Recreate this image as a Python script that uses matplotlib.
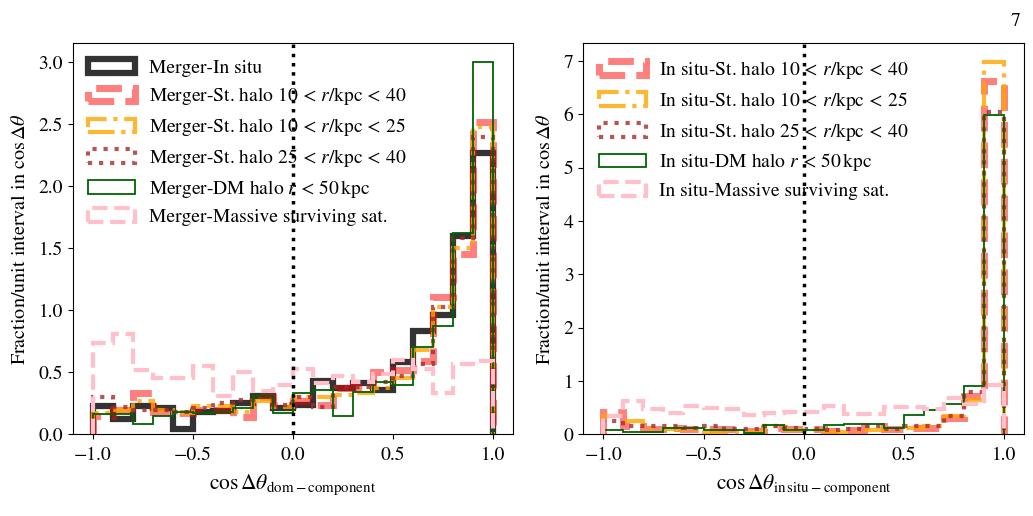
import numpy as np
import matplotlib
matplotlib.use("Agg")
import matplotlib.pyplot as plt

plt.rcParams['font.family'] = 'serif'
plt.rcParams['font.serif'] = ['STIXGeneral', 'Liberation Serif', 'DejaVu Serif']
plt.rcParams['mathtext.fontset'] = 'stix'
plt.rcParams['font.size'] = 14

bin_edges = np.linspace(-1.0, 1.0, 21)

# Left panel: Merger vs components
merger_insitu = [0.23, 0.12, 0.23, 0.21, 0.04, 0.18, 0.19, 0.25, 0.31, 0.21,
                 0.24, 0.43, 0.37, 0.41, 0.36, 0.58, 0.83, 0.96, 1.60, 2.27]
merger_st_10_40 = [0.15, 0.20, 0.33, 0.18, 0.17, 0.20, 0.20, 0.14, 0.30, 0.24,
                   0.27, 0.24, 0.37, 0.38, 0.50, 0.52, 0.59, 1.11, 1.45, 2.52]
merger_st_10_25 = [0.17, 0.20, 0.27, 0.20, 0.17, 0.23, 0.23, 0.18, 0.27, 0.22,
                   0.30, 0.30, 0.32, 0.33, 0.37, 0.45, 0.68, 1.03, 1.50, 2.48]
merger_st_25_40 = [0.30, 0.22, 0.20, 0.20, 0.18, 0.21, 0.25, 0.28, 0.30, 0.24,
                   0.30, 0.22, 0.38, 0.38, 0.42, 0.47, 0.57, 1.03, 1.58, 2.40]
merger_dm = [0.16, 0.16, 0.08, 0.15, 0.18, 0.17, 0.18, 0.21, 0.31, 0.17,
             0.33, 0.36, 0.15, 0.34, 0.42, 0.40, 0.70, 0.87, 1.62, 3.00]
merger_sat = [0.74, 0.81, 0.52, 0.45, 0.45, 0.55, 0.31, 0.50, 0.35, 0.40,
              0.53, 0.41, 0.47, 0.42, 0.49, 0.60, 0.53, 0.33, 0.57, 0.59]

# Right panel: In situ vs components
insitu_st_10_40 = [0.42, 0.15, 0.10, 0.12, 0.10, 0.10, 0.10, 0.06, 0.12, 0.10,
                   0.10, 0.06, 0.08, 0.15, 0.10, 0.12, 0.12, 0.30, 0.72, 6.62]
insitu_st_10_25 = [0.35, 0.25, 0.10, 0.10, 0.08, 0.05, 0.05, 0.05, 0.15, 0.08,
                   0.08, 0.05, 0.05, 0.08, 0.10, 0.12, 0.15, 0.35, 0.65, 6.98]
insitu_st_25_40 = [0.25, 0.15, 0.15, 0.15, 0.12, 0.15, 0.10, 0.10, 0.15, 0.12,
                   0.10, 0.08, 0.10, 0.15, 0.10, 0.15, 0.15, 0.35, 0.80, 6.05]
insitu_dm = [0.075, 0.045, 0.045, 0.12, 0.12, 0.09, 0.075, 0.02, 0.17, 0.09,
             0.08, 0.18, 0.20, 0.19, 0.12, 0.36, 0.46, 0.57, 0.91, 5.98]
insitu_sat = [0.35, 0.63, 0.47, 0.40, 0.53, 0.49, 0.47, 0.36, 0.40, 0.41,
              0.42, 0.53, 0.39, 0.39, 0.52, 0.52, 0.47, 0.69, 0.57, 0.93]

range_10_40 = r'$10\,<\,r/{\rm kpc}\,<\,40$'
range_10_25 = r'$10\,<\,r/{\rm kpc}\,<\,25$'
range_25_40 = r'$25\,<\,r/{\rm kpc}\,<\,40$'
dm_range = r'$r\,<\,50\,{\rm kpc}$'

styles = {
    'insitu': dict(color='k', alpha=0.8, lw=4.5, ls='-'),
    'st1040': dict(color='red', alpha=0.5, lw=5.0, ls='--'),
    'st1025': dict(color='orange', alpha=0.8, lw=3.0, ls='-.'),
    'st2540': dict(color='brown', alpha=0.8, lw=3.0, ls=':'),
    'dm': dict(color='darkgreen', alpha=1.0, lw=1.3, ls='-'),
    'sat': dict(color='pink', alpha=1.0, lw=3.0, ls='--'),
}

centers = 0.5 * (bin_edges[:-1] + bin_edges[1:])

fig = plt.figure(figsize=(10.33, 5.16), dpi=100)
ax1 = fig.add_axes([0.0704, 0.1583, 0.4259, 0.7574])
ax2 = fig.add_axes([0.5647, 0.1583, 0.4266, 0.7574])


def draw(ax, vals, key, label):
    ax.hist(centers, bins=bin_edges, weights=vals, histtype='step',
            label=label, **styles[key])


draw(ax1, merger_insitu, 'insitu', 'Merger-In situ')
draw(ax1, merger_st_10_40, 'st1040', 'Merger-St. halo ' + range_10_40)
draw(ax1, merger_st_10_25, 'st1025', 'Merger-St. halo ' + range_10_25)
draw(ax1, merger_st_25_40, 'st2540', 'Merger-St. halo ' + range_25_40)
draw(ax1, merger_dm, 'dm', 'Merger-DM halo ' + dm_range)
draw(ax1, merger_sat, 'sat', 'Merger-Massive surviving sat.')

draw(ax2, insitu_st_10_40, 'st1040', 'In situ-St. halo ' + range_10_40)
draw(ax2, insitu_st_10_25, 'st1025', 'In situ-St. halo ' + range_10_25)
draw(ax2, insitu_st_25_40, 'st2540', 'In situ-St. halo ' + range_25_40)
draw(ax2, insitu_dm, 'dm', 'In situ-DM halo ' + dm_range)
draw(ax2, insitu_sat, 'sat', 'In situ-Massive surviving sat.')

for ax in (ax1, ax2):
    ax.axvline(0.0, color='k', ls=':', lw=2.5)
    ax.set_xlim(-1.1, 1.1)
    ax.set_xticks([-1.0, -0.5, 0.0, 0.5, 1.0])
    ax.tick_params(labelsize=14)
    ax.tick_params(axis='x', pad=5.5)
    ax.set_ylabel(r'Fraction/unit interval in $\cos\Delta\theta$',
                  fontsize=14.5, labelpad=7)
    ax.legend(loc='upper left', frameon=False, fontsize=14,
              handlelength=2.4, handleheight=0.7, labelspacing=0.45,
              handletextpad=0.7, borderaxespad=0.4)

ax1.set_ylim(0, 3.15)
ax1.set_yticks([0.0, 0.5, 1.0, 1.5, 2.0, 2.5, 3.0])
ax2.set_ylim(0, 7.33)
ax2.set_yticks(range(0, 8))

ax1.set_xlabel(r'$\cos\Delta\theta_{\rm dom-component}$', fontsize=15.5, labelpad=6)
ax2.set_xlabel(r'$\cos\Delta\theta_{\rm in\,situ-component}$', fontsize=15.5, labelpad=6)

fig.text(0.9875, 0.975, '7', fontsize=14, ha='right', va='top')

fig.savefig('out.png', dpi=100)
